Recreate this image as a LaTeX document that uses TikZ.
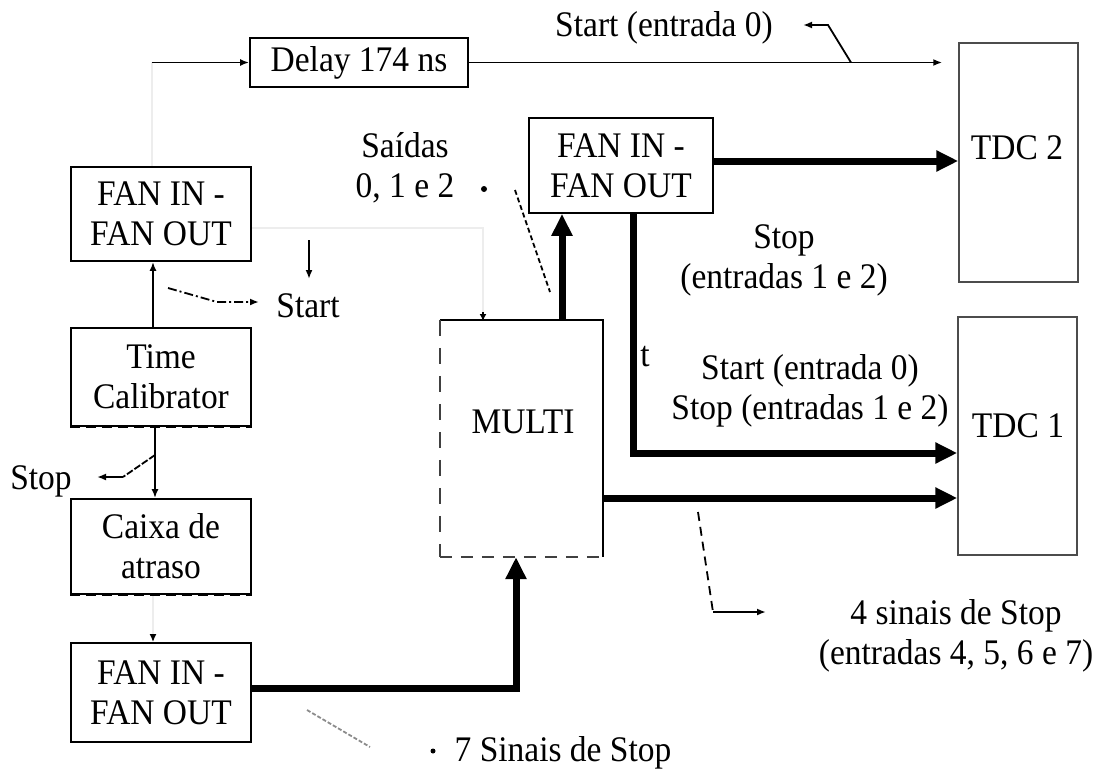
\documentclass[tikz,border=0pt]{standalone}
\usepackage{fontspec}
\setmainfont{Liberation Serif}[FakeStretch=0.93]
\usetikzlibrary{arrows.meta}
\begin{document}
\begin{tikzpicture}[x=1pt,y=-1pt,
  every node/.style={font=\fontsize{36}{40}\selectfont},
  box/.style={draw, line width=1.8pt, inner sep=0pt, align=center},
  tdc/.style={draw=black!70, line width=1.5pt, inner sep=0pt},
  txt/.style={inner sep=0pt, align=center},
  thinln/.style={line width=1.8pt},
  tarrow/.style={line width=1.8pt, -{Latex[length=9pt,width=7pt]}},
  thickarrow/.style={line width=7pt, line join=miter, -{Triangle[length=22pt,width=20pt]}},
  faint/.style={line width=1.5pt, black!7}
]
\useasboundingbox (0,0) rectangle (1102,776);

% faint scan lines
\draw[faint] (152,62) -- (152,167);
\draw[faint] (251,228) -- (483,228) -- (483,314);
\draw[faint] (153,594) -- (153,636);

% boxes
\node[box, minimum width=218pt, minimum height=49pt] (delay) at (359,62.5) {Delay 174 ns};
\node[box, minimum width=180pt, minimum height=94pt] (fan1) at (161,214) {FAN IN -\\FAN OUT};
\node[box, minimum width=180pt, minimum height=98pt] (tcal) at (161,377) {Time\\Calibrator};
\node[box, minimum width=180pt, minimum height=95pt] (caixa) at (161,546.5) {Caixa de\\atraso};
\node[box, minimum width=180pt, minimum height=99pt] (fan3) at (161,692.5) {FAN IN -\\FAN OUT};
\node[box, minimum width=184pt, minimum height=95pt] (fan2) at (621,165.5) {FAN IN -\\FAN OUT};
\node[inner sep=0pt, minimum width=163pt, minimum height=237pt] (multi) at (521.5,438.5) {};
\node[txt] (multitxt) at (523,422) {MULTI};
\node[tdc, minimum width=119pt, minimum height=239pt] (tdc2) at (1018.5,162.5) {};
\node[txt] (tdc2txt) at (1017,148) {TDC 2};
\node[tdc, minimum width=119pt, minimum height=238pt] (tdc1) at (1017.5,436) {};
\node[txt] (tdc1txt) at (1018,426) {TDC 1};

% dashed bottoms (scan look)
\draw[line width=3pt, dash pattern=on 10pt off 6pt] (tcal.south west) -- (tcal.south east);
\draw[line width=3pt, dash pattern=on 10pt off 6pt] (caixa.south west) -- (caixa.south east);

% MULTI edges
\draw[thinln] (multi.north west) -- (multi.north east) -- (multi.south east);
\draw[line width=1.8pt, black!75, dash pattern=on 16pt off 12pt] (multi.north west) -- (multi.south west);
\draw[line width=1.8pt, black!75, dash pattern=on 12pt off 9pt] (multi.south west) -- (multi.south east);

% labels
\node[txt] (start0) at (664,28) {Start (entrada 0)};
\node[txt] (saidas) at (405,168) {Saídas\\0, 1 e 2};
\node[txt] (startl) at (308,306) {Start};
\node[txt] (stopl) at (41,481) {Stop};
\node[txt] (stop12) at (784,260) {Stop\\(entradas 1 e 2)};
\node[txt] (ss) at (810,391) {Start (entrada 0)\\Stop (entradas 1 e 2)};
\node[txt] (tt) at (645,357) {t};
\node[txt] (s4) at (956,636) {4 sinais de Stop\\(entradas 4, 5, 6 e 7)};
\node[txt] (s7) at (563,753) {7 Sinais de Stop};

% top chain
\coordinate (in0) at (152,62.5);
\draw[tarrow] (in0) -- (delay.west);
\draw[tarrow, shorten >=16pt] (delay.east) -- (delay.east -| tdc2.west);
\coordinate (s0) at (851,62.5);
\draw[tarrow] (s0) -- (828,25) -- (803,25);

% left column
\draw[tarrow] ([xshift=-8pt]tcal.north) -- ([xshift=-8pt]fan1.south);
\draw[tarrow] ([xshift=-6pt]tcal.south) -- ([xshift=-6pt]caixa.north);
\draw[-{Latex[length=8pt,width=7pt]}, line width=1.8pt] (153,634) -- ([xshift=-8pt]fan3.north);
\coordinate (stopa) at (155,455);
\draw[line width=1.8pt, dash pattern=on 7pt off 2pt] (stopa) -- (123,477);
\draw[tarrow] (123,477) -- (97,477);
\coordinate (sta) at (168,288);
\draw[line width=1.8pt, dash pattern=on 9pt off 3pt on 2pt off 3pt, -{Latex[length=9pt,width=7pt]}] (sta) -- (217,302) -- (259,302);
\draw[tarrow] (309,240) -- (309,279);

% saidas dot and dashed pointer
\fill (484,189) circle (3pt);
\draw[line width=1.8pt, dash pattern=on 5pt off 3pt] (515,190) -- (550,292);

% thick connectors
\draw[thickarrow] ([yshift=4.5pt]fan2.east) -- ([yshift=4.5pt]fan2.east -| tdc2.west);
\draw[thickarrow] ([xshift=40.5pt]multi.north) -- ([xshift=40.5pt]multi.north |- fan2.south);
\draw[thickarrow] ([xshift=12pt]fan2.south) |- ([yshift=-17pt]tdc1.west);
\draw[thickarrow] ([yshift=-59.5pt]multi.east) -- ([yshift=-59.5pt]multi.east -| tdc1.west);
\draw[thickarrow] ([yshift=4.5pt]fan3.east) -| ([xshift=-5.5pt]multi.south);

% tick on MULTI top
\draw[-{Latex[length=7pt,width=7pt]}, line width=1.8pt] (483,312) -- (483,321);

% 4 sinais
\coordinate (d4) at (698,512);
\draw[line width=1.8pt, dash pattern=on 9pt off 6pt] (d4) -- (713,612);
\draw[tarrow] (713,612) -- (766,612);

% 7 sinais
\draw[line width=1.8pt, black!45, dash pattern=on 4pt off 2pt] (307,710) -- (370,747);
\fill (433,751) circle (2.5pt);
\end{tikzpicture}
\end{document}
